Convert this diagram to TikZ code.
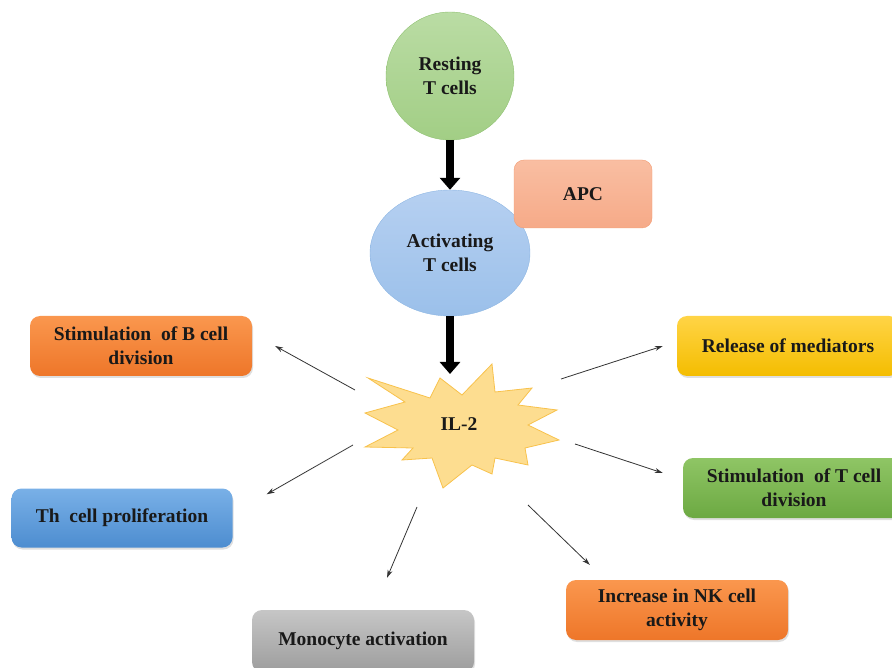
\documentclass[tikz,border=0pt]{standalone}
\usepackage{fontspec}
\setmainfont{Liberation Serif}
\usetikzlibrary{arrows.meta,shadows,shapes.geometric}
\definecolor{restTop}{HTML}{BADCA4}
\definecolor{restBot}{HTML}{A2CE85}
\definecolor{restLine}{HTML}{8FC171}
\definecolor{actTop}{HTML}{B6D0F1}
\definecolor{actBot}{HTML}{9BC0EA}
\definecolor{actLine}{HTML}{8DB6E3}
\definecolor{apcTop}{HTML}{F9BEA2}
\definecolor{apcBot}{HTML}{F6AA88}
\definecolor{apcLine}{HTML}{F39C73}
\definecolor{starFill}{HTML}{FDDD90}
\definecolor{starLine}{HTML}{F8C24C}
\definecolor{orTop}{HTML}{FA974E}
\definecolor{orBot}{HTML}{EE7629}
\definecolor{blTop}{HTML}{79B0E7}
\definecolor{blBot}{HTML}{4D8DD0}
\definecolor{grTop}{HTML}{8FC565}
\definecolor{grBot}{HTML}{6CA942}
\definecolor{yeTop}{HTML}{FFD446}
\definecolor{yeBot}{HTML}{F4BD00}
\definecolor{gyTop}{HTML}{C6C6C6}
\definecolor{gyBot}{HTML}{9D9D9D}

\begin{document}
\begin{tikzpicture}[x=1pt, y=-1pt,
    every node/.style={font=\bfseries\fontsize{19.5}{24}\selectfont, align=center, text=black!90},
    effect/.style={rounded corners=10pt, minimum width=222pt, minimum height=60pt,
      drop shadow={opacity=0.25, shadow xshift=1pt, shadow yshift=-2pt}},
    orangebox/.style={effect, top color=orTop, bottom color=orBot},
    bigarrow/.style={line width=8pt, -{Triangle[length=12pt, width=20pt]}},
    smallarrow/.style={line width=0.8pt, black!80, -{Stealth[length=8pt, width=5pt]}},
    ]
    \clip (0,0) rectangle (892,668);
    % cells
    \node[circle, draw=restLine, top color=restTop, bottom color=restBot,
      minimum size=128pt, inner sep=0pt] (resting) at (450,76) {Resting\\T cells};
    \node[ellipse, draw=actLine, top color=actTop, bottom color=actBot,
      minimum width=160pt, minimum height=126pt, inner sep=0pt] (activating) at (450,253) {Activating\\T cells};
    \node[rectangle, rounded corners=10pt, draw=apcLine, top color=apcTop, bottom color=apcBot,
      minimum width=138pt, minimum height=68pt] (apc) at (583,194) {APC};
    % IL-2 star
    \draw[draw=starLine, fill=starFill, line width=0.8pt]
      (368,378) -- (430,398) -- (440,378) -- (462,395) -- (492,364) -- (495,392) -- (532,388) -- (518,405)
      -- (557,410) -- (528,425) -- (559,440) -- (525,448) -- (528,465) -- (495,458) -- (492,474) -- (472,465)
      -- (443,488) -- (432,458) -- (402,460) -- (413,448) -- (365,447) -- (398,430) -- (365,413) -- (405,402) -- cycle;
    \node (il) at (459,424) {IL-2};
    \coordinate (iltop) at (450,374);
    % effects of IL-2
    \node[orangebox] (bcell) at (141,346) {Stimulation\ \ of B cell\\division};
    \node[effect, top color=blTop, bottom color=blBot, minimum width=221pt, minimum height=59pt]
      (thcell) at (122,518) {Th\ \ cell proliferation};
    \node[effect, top color=gyTop, bottom color=gyBot, minimum height=62pt] (mono) at (363,641) {Monocyte activation};
    \node[orangebox] (nk) at (677,610) {Increase in NK cell\\activity};
    \node[effect, top color=grTop, bottom color=grBot] (tcell) at (794,488)
      {Stimulation\ \ of T cell\\division};
    \node[effect, top color=yeTop, bottom color=yeBot] (release) at (788,346)
      {Release of mediators};
    % arrows
    \draw[bigarrow] (resting) -- (activating);
    \draw[bigarrow] (activating) -- (iltop);
    \coordinate (s1) at (355,390);
    \coordinate (s2) at (353,445);
    \coordinate (s3) at (417,507);
    \coordinate (s4) at (528,505);
    \coordinate (s5) at (575,444);
    \coordinate (s6) at (561,379);
    \draw[smallarrow] (s1) -- ([xshift=23pt]bcell.east);
    \draw[smallarrow] (s2) -- ([xshift=34pt, yshift=-6pt]thcell.north east);
    \draw[smallarrow] (s3) -- ([xshift=24pt, yshift=32pt]mono.north);
    \draw[smallarrow] (s4) -- ([xshift=24pt, yshift=15pt]nk.north west);
    \draw[smallarrow] (s5) -- ([xshift=-20pt, yshift=15pt]tcell.west);
    \draw[smallarrow] (s6) -- ([xshift=-14pt]release.west);
  \end{tikzpicture}
\end{document}
